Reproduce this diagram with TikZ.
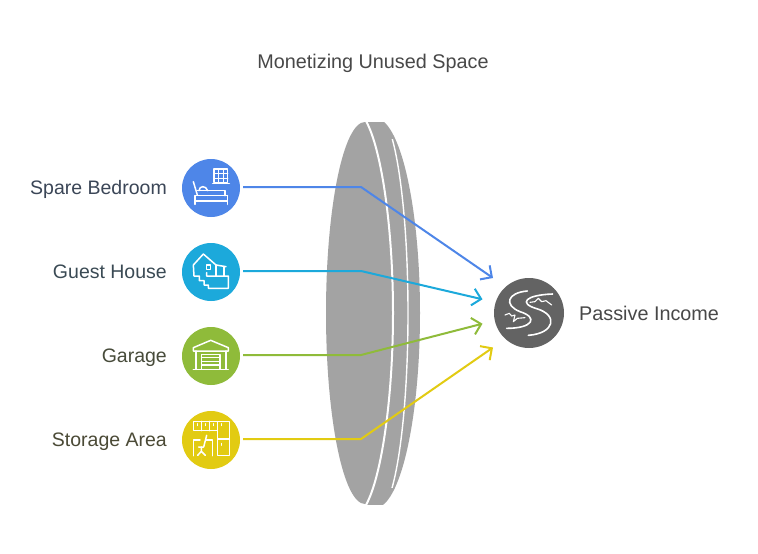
\documentclass[tikz,border=0pt]{standalone}
\usepackage{fontspec}
\setmainfont{Liberation Sans}
\usetikzlibrary{arrows.meta}
\definecolor{cblue}{HTML}{4E86E8}
\definecolor{ccyan}{HTML}{1CA9DB}
\definecolor{cgreen}{HTML}{8FBB3A}
\definecolor{cyellow}{HTML}{E2CB12}
\definecolor{cgray}{HTML}{A3A3A3}
\definecolor{cdark}{HTML}{636363}
\definecolor{tgray}{HTML}{484848}
\definecolor{tblue}{HTML}{3B4657}
\definecolor{tcyan}{HTML}{3A4A54}
\definecolor{tgreen}{HTML}{474B3A}
\definecolor{tyellow}{HTML}{4B4A36}
\tikzset{
  x=1pt,y=-1pt,
  badge/.style={circle,inner sep=0pt,minimum size=58pt,outer sep=3pt},
  lbl/.style={font=\fontsize{19.5}{22}\selectfont,inner sep=0pt,anchor=base east},
  link/.style={line width=2pt,-{Straight Barb[length=8.5pt,width=17pt,line width=2pt]},line join=miter},
  ico/.style={draw=white,line width=1.5pt,line join=round,line cap=round},
}
\begin{document}
\begin{tikzpicture}
\useasboundingbox (0,0) rectangle (758,554);
\fill[white] (0,0) rectangle (758,554);
% lens
\begin{scope}
\clip (320,122) rectangle (366,504);
\fill[cgray] (365,313) ellipse[x radius=39,y radius=191];
\end{scope}
\begin{scope}
\clip (365,122) rectangle (430,504);
\fill[cgray] (375,313) ellipse[x radius=45,y radius=195];
\end{scope}
\draw[white,line width=2pt] (366,121) .. controls (382,150) and (393,230) .. (393,313) .. controls (393,396) and (382,476) .. (366,505);
\begin{scope}
\clip (380,139) rectangle (430,487);
\draw[white,line width=1.4pt] (377,313) ellipse[x radius=31,y radius=200];
\end{scope}
% badges
\node[badge,fill=cblue] (n1) at (211,188) {};
\node[badge,fill=ccyan] (n2) at (211,272) {};
\node[badge,fill=cgreen] (n3) at (211,356) {};
\node[badge,fill=cyellow] (n4) at (211,440) {};
\node[circle,inner sep=0pt,minimum size=70pt,fill=cdark] (p) at (529,313) {};
% labels
\node[font=\fontsize{19.8}{22}\selectfont,inner sep=0pt,anchor=base,text=tgray] (title) at (373,68) {Monetizing Unused Space};
\node[lbl,text=tblue] (l1) at (167,194) {Spare Bedroom};
\node[lbl,text=tcyan] (l2) at (167,278) {Guest House};
\node[lbl,text=tgreen] (l3) at (167,362) {Garage};
\node[lbl,text=tyellow] (l4) at (167,446) {Storage Area};
\node[lbl,font=\fontsize{19.8}{22}\selectfont,anchor=base west,text=tgray] (l5) at (579,320) {Passive Income};
% connectors
\coordinate (b1) at (361,187); \coordinate (e1) at (493,278);
\coordinate (b2) at (361,271); \coordinate (e2) at (482.5,299.3);
\coordinate (b3) at (361,355); \coordinate (e3) at (482.5,323.7);
\coordinate (b4) at (361,439); \coordinate (e4) at (493,347.5);
\draw[link,cblue] (n1.east |- b1) -- (b1) -- (e1);
\draw[link,ccyan] (n2.east |- b2) -- (b2) -- (e2);
\draw[link,cgreen] (n3.east |- b3) -- (b3) -- (e3);
\draw[link,cyellow] (n4.east |- b4) -- (b4) -- (e4);
% bed icon
\begin{scope}[shift={(170,150)},scale=1/3]
\draw[ico] (132,57) rectangle (173,98);
\draw[ico] (128,100) -- (178,100);
\draw[ico] (132,71) -- (173,71) (132,85) -- (173,85) (146,57) -- (146,98) (160,57) -- (160,98);
\draw[ico] (70,95) -- (82,135);
\draw[ico] (82,122) -- (165,122) -- (165,137);
\draw[ico] (75,137) -- (172,137);
\draw[ico] (75,137) -- (75,163) (172,137) -- (172,163);
\draw[ico] (75,153) -- (172,153);
\draw[ico] (87,122) .. controls (88,106) and (108,106) .. (113,122);
\end{scope}
% guest house icon
\begin{scope}[shift={(170,150)},scale=1/3]
\draw[ico] (138,345) -- (100,312) -- (70,345) -- (72,378) -- (88,378) -- (88,392) -- (102,392) -- (102,405) -- (115,405) -- (115,415) -- (175,415) -- (175,378) -- (110,378) -- (110,368);
\draw[ico] (110,345) rectangle (122,358);
\draw[ico] (138,345) -- (168,350);
\draw[ico] (138,345) -- (138,378) (162,350) -- (162,378);
\end{scope}
% garage icon
\begin{scope}[shift={(170,320)},scale=1/3]
\draw[ico] (70,93) -- (70,83) -- (122,61) -- (175,83) -- (175,93) -- cycle;
\draw[ico] (78,93) -- (78,148) (168,93) -- (168,148);
\draw[ico] (70,149) -- (175,149);
\draw[ico] (95,103) rectangle (150,149);
\draw[ico] (95,113) -- (150,113) (95,124) -- (150,124) (95,135) -- (150,135);
\end{scope}
% storage icon
\begin{scope}[shift={(186,414)},scale=1/3]
\draw[ico] (22,22) rectangle (95,50);
\draw[ico] (46,22) -- (46,50) (70,22) -- (70,50);
\draw[ico] (95,22) rectangle (130,125);
\draw[ico] (95,75) -- (130,75);
\draw[ico] (22,125) -- (22,78) -- (42,78) (60,78) -- (80,78) -- (80,125);
\draw[ico] (62,64) -- (53,99) -- (38,99);
\draw[ico] (46,99) -- (46,112) (35,124) -- (46,112) -- (58,124);
\draw[ico,line width=.9pt] (34,29) -- (34,35) (58,29) -- (58,35) (82,29) -- (82,35) (106,29) -- (106,35) (106,88) -- (106,94);
\end{scope}
% river icon
\begin{scope}[shift={(470,260)},scale=1/3]
\draw[ico,line width=1.6pt] (172,93) .. controls (112,98) and (100,135) .. (150,155) .. controls (205,172) and (190,205) .. (110,205);
\draw[ico,line width=1.6pt] (248,102) .. controls (165,105) and (145,130) .. (200,146) .. controls (265,165) and (255,220) .. (175,226);
\draw[ico,line width=1.1pt] (105,165) -- (118,160) -- (125,168) -- (135,165) -- (130,185) -- (142,175) -- (165,173);
\draw[ico,line width=1.1pt] (180,127) -- (195,125) -- (205,115) -- (215,125) -- (228,122) -- (245,135);
\end{scope}
\end{tikzpicture}
\end{document}
